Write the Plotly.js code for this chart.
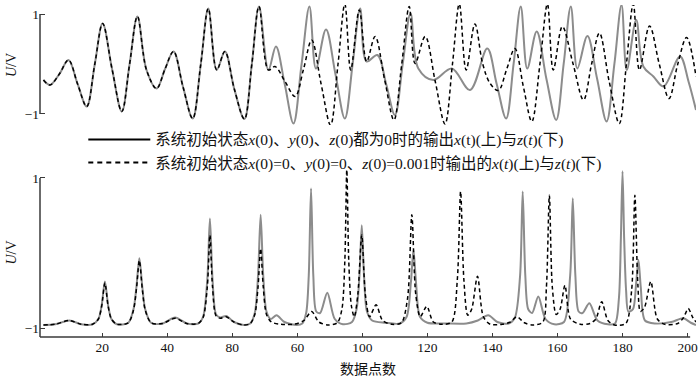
<!DOCTYPE html>
<html>
<head>
<meta charset="utf-8">
<script src="https://cdn.plot.ly/plotly-3.0.1.min.js"></script>
<style>html,body{margin:0;padding:0;background:#fff;}#chart{width:700px;height:381px;}</style>
</head>
<body>
<div id="chart"></div>
<script>
// ---- Data ----
// Top panel: x(t), solid = initial state all 0, dashed = z(0)=0.001
var topSolidX = [1.9, 3.9, 6.8, 9.6, 12.4, 15.2, 17.7, 20.1, 23.0, 26.0, 28.4, 30.8, 33.6, 36.7, 39.3,
  41.9, 44.8, 47.8, 50.3, 52.6, 55.2, 57.7, 60.6, 63.7, 66.0, 68.2, 71.1, 73.4, 76.1, 78.8,
  81.3, 83.7, 85.7, 88.8, 91.7, 94.6, 97.0, 99.3, 101.3, 104.6, 107.3, 110.0, 112.4, 114.8, 117.2,
  121.8, 127.5, 133.1, 138.4, 141.3, 144.2, 146.5, 148.7, 150.7, 153.6, 156.6, 159.6, 161.9, 164.1, 166.1,
  169.2, 172.2, 175.1, 177.5, 179.7, 181.3, 184.2, 186.4, 189.5, 192.6, 197.7, 200.3, 202.6];
var topSolidY = [-0.32, -0.42, -0.2, 0.08, -0.4, -0.85, 0.0, 0.81, -0.1, -0.95, 0.0, 0.95, -0.12, -0.49, -0.1,
  0.25, -0.45, -1.09, 0.0, 1.11, -0.12, 0.25, -0.5, -1.1, 0.0, 1.15, -0.12, 0.35, -0.4, -1.19,
  0.0, 1.15, -0.09, 0.69, -0.2, -1.09, 0.0, 1.11, 0.05, 0.18, -0.4, -1.02, 0.0, 1.01, -0.09,
  -0.32, -0.09, -0.52, 0.31, -0.4, -1.09, 0.0, 1.15, -0.09, 0.65, -0.3, -1.12, 0.0, 1.15, -0.09,
  0.56, -0.3, -1.15, 0.0, 1.18, -0.12, 0.88, -0.05, -0.25, -0.45, 0.15, -0.35, -0.92];

var topDashX = [1.9, 3.9, 6.8, 9.6, 12.4, 15.2, 17.7, 20.1, 23.0, 26.0, 28.4, 30.8, 33.6, 36.7, 39.3,
  41.9, 44.8, 47.8, 50.3, 52.6, 55.2, 57.7, 60.6, 63.7, 66.0, 68.2, 71.1, 73.1, 76.2, 79.3,
  81.9, 84.4, 87.3, 90.2, 92.5, 94.6, 96.4, 99.05, 101.3, 103.9, 106.8, 109.7, 112.1, 114.4, 116.2,
  119.3, 122.4, 125.4, 127.7, 129.8, 131.9, 134.6, 137.0, 139.3, 141.8, 144.4, 146.9, 149.5, 152.1, 154.6,
  156.9, 158.7, 161.5, 164.8, 168.0, 170.5, 172.9, 175.9, 179.0, 181.2, 183.3, 185.2, 188.3, 191.3, 194.3,
  197.0, 199.7, 202.6];
var topDashY = [-0.32, -0.42, -0.2, 0.08, -0.4, -0.85, 0.0, 0.81, -0.1, -0.95, 0.0, 0.95, -0.12, -0.49, -0.1,
  0.25, -0.45, -1.09, 0.0, 1.11, -0.12, 0.25, -0.5, -1.1, 0.0, 1.15, -0.12, -0.05, -0.35, -0.65,
  -0.1, 0.48, -0.4, -1.22, 0.0, 1.2, -0.12, 1.08, 0.05, 0.55, -0.3, -1.12, 0.0, 1.15, 0.01,
  0.55, -0.35, -1.2, 0.0, 1.2, -0.12, 0.8, 0.0, -0.39, -0.53, -0.1, 0.31, -0.45, -1.15, 0.0,
  1.2, -0.12, 0.75, 0.0, -0.72, 0.0, 0.62, -0.35, -1.19, 0.0, 1.2, -0.12, 0.76, 0.0, -0.69,
  0.0, 0.53, -0.25];

// Bottom panel: z(t)
var botSolidX = [1.9, 5.5, 9.9, 13.5, 17.0, 18.8, 19.8, 20.8, 21.8, 22.8,
  24.5, 28.0, 29.6, 30.5, 31.4, 32.3, 33.2, 35.0, 38.5, 42.4,
  46.0, 49.5, 51.0, 52.3, 53.1, 53.9, 55.0, 56.3, 58.1, 60.5,
  63.5, 65.5, 66.9, 67.9, 68.7, 69.5, 70.5, 71.8, 73.6, 76.0,
  79.8, 81.5, 82.7, 83.5, 84.2, 84.9, 85.8, 87.0, 89.2, 91.5,
  94.0, 96.8, 98.2, 99.1, 99.8, 100.5, 101.4, 103.0, 107.0, 111.5,
  113.6, 114.9, 115.7, 116.5, 117.7, 120.0, 126.0, 132.0, 135.5, 138.7,
  141.5, 145.0, 146.9, 148.5, 149.3, 150.1, 151.0, 152.2, 154.1, 156.3,
  159.0, 162.0, 163.9, 164.7, 165.5, 166.5, 167.7, 169.8, 172.3, 175.5,
  177.7, 178.9, 179.5, 180.0, 180.5, 181.1, 181.8, 183.2, 184.2, 184.9,
  185.6, 186.9, 190.0, 195.0, 198.7, 201.0, 202.6];
var botSolidY = [-0.96, -0.95, -0.9, -0.95, -0.95, -0.88, -0.7, -0.38, -0.7, -0.88,
  -0.95, -0.93, -0.75, -0.45, -0.07, -0.45, -0.75, -0.93, -0.94, -0.86,
  -0.94, -0.94, -0.85, -0.35, 0.46, -0.35, -0.82, -0.86, -0.84, -0.92,
  -0.96, -0.94, -0.8, -0.3, 0.51, -0.3, -0.78, -0.88, -0.83, -0.92,
  -0.96, -0.94, -0.8, -0.3, 0.86, -0.3, -0.78, -0.8, -0.53, -0.88,
  -0.95, -0.92, -0.75, -0.3, 0.37, -0.3, -0.78, -0.9, -0.93, -0.94,
  -0.85, -0.4, 0.04, -0.4, -0.85, -0.93, -0.94, -0.94, -0.9, -0.83,
  -0.92, -0.94, -0.86, -0.3, 0.82, -0.3, -0.75, -0.8, -0.58, -0.88,
  -0.95, -0.92, -0.3, 0.73, -0.3, -0.78, -0.8, -0.67, -0.9, -0.95,
  -0.94, -0.6, 0.2, 1.09, 0.2, -0.5, -0.78, -0.75, -0.4, -0.09,
  -0.45, -0.9, -0.94, -0.92, -0.87, -0.93, -0.96];

var botDashX = [1.9, 5.5, 9.9, 13.5, 17.0, 18.8, 19.8, 20.8, 21.8, 22.8,
  24.5, 28.0, 29.6, 30.5, 31.4, 32.3, 33.2, 35.0, 38.5, 42.4,
  46.0, 49.5, 51.0, 52.3, 53.1, 53.9, 55.0, 56.3, 58.1, 60.5,
  63.5, 65.5, 66.9, 67.9, 68.7, 69.5, 70.5, 72.0, 75.0, 79.0,
  82.0, 84.4, 86.6, 89.5, 92.3, 93.7, 94.6, 95.2, 95.8, 96.6,
  97.5, 98.6, 99.8, 100.9, 102.2, 104.2, 106.2, 109.0, 112.0, 113.9,
  115.2, 116.4, 117.8, 119.8, 121.8, 124.5, 127.5, 129.2, 130.2, 131.2,
  132.4, 133.6, 135.4, 137.2, 139.3, 143.0, 145.5, 147.5, 149.8, 152.5,
  155.5, 156.6, 157.5, 158.4, 159.6, 160.8, 162.3, 164.0, 167.0, 170.0,
  171.8, 173.6, 175.5, 177.5, 181.0, 182.8, 183.8, 184.7, 185.5, 186.8,
  188.7, 190.7, 193.0, 197.0, 198.8, 200.2, 201.6, 202.6];
var botDashY = [-0.96, -0.95, -0.9, -0.95, -0.95, -0.88, -0.71, -0.4, -0.71, -0.88,
  -0.95, -0.93, -0.76, -0.48, -0.1, -0.48, -0.76, -0.93, -0.94, -0.87,
  -0.94, -0.94, -0.86, -0.45, 0.24, -0.45, -0.84, -0.87, -0.85, -0.92,
  -0.96, -0.94, -0.82, -0.45, 0.06, -0.45, -0.82, -0.92, -0.95, -0.95,
  -0.9, -0.78, -0.92, -0.96, -0.93, -0.75, -0.1, 1.11, -0.1, -0.7,
  -0.85, -0.55, 0.24, -0.55, -0.85, -0.69, -0.9, -0.95, -0.93, -0.6,
  0.51, -0.55, -0.85, -0.71, -0.92, -0.95, -0.92, -0.35, 0.82, -0.35,
  -0.83, -0.75, -0.31, -0.85, -0.95, -0.95, -0.92, -0.85, -0.93, -0.96,
  -0.92, -0.45, 0.77, -0.45, -0.82, -0.75, -0.43, -0.88, -0.95, -0.94,
  -0.88, -0.65, -0.9, -0.96, -0.94, -0.5, 0.77, -0.4, -0.78, -0.72,
  -0.38, -0.88, -0.95, -0.94, -0.86, -0.74, -0.86, -0.92];

var tickValues = [20, 40, 60, 80, 100, 120, 140, 160, 180, 200];
var tickLabels = ['20', '40', '80', '60', '100', '120', '140', '160', '180', '200'];
var legendSolid = '系统初始状态<i>x</i>(0)、<i>y</i>(0)、<i>z</i>(0)都为0时的输出<i>x</i>(t)(上)与<i>z</i>(<i>t</i>)(下)';
var legendDash = '系统初始状态<i>x</i>(0)=0、<i>y</i>(0)=0、<i>z</i>(0)=0.001时输出的<i>x</i>(<i>t</i>)(上)与<i>z</i>(<i>t</i>)(下)';

// ---- Styles ----
var FONT = '"Liberation Serif", "Noto Sans CJK SC", serif';
var GRAY = '#8c8c8c';
var AX = '#3a3a3a';
var DASH = '4px,3px';

var traces = [
  {x: topSolidX, y: topSolidY, xaxis: 'x', yaxis: 'y', mode: 'lines', showlegend: false,
   line: {color: GRAY, width: 2, shape: 'spline', smoothing: 1}},
  {x: topDashX, y: topDashY, xaxis: 'x', yaxis: 'y', mode: 'lines', showlegend: false,
   line: {color: '#000', width: 1.5, dash: DASH, shape: 'spline', smoothing: 1}},
  {x: botSolidX, y: botSolidY, xaxis: 'x', yaxis: 'y2', mode: 'lines', showlegend: false,
   line: {color: GRAY, width: 2, shape: 'spline', smoothing: 0.8}},
  {x: botDashX, y: botDashY, xaxis: 'x', yaxis: 'y2', mode: 'lines', showlegend: false,
   line: {color: '#000', width: 1.5, dash: DASH, shape: 'spline', smoothing: 0.8}},
  {x: [null], y: [null], xaxis: 'x', yaxis: 'y', mode: 'lines', name: legendSolid, legendgroup: 'a',
   line: {color: '#000', width: 2}},
  {x: [null], y: [null], xaxis: 'x', yaxis: 'y', mode: 'lines', name: legendDash, legendgroup: 'b',
   line: {color: '#000', width: 2, dash: '5px,4px'}}
];

var layout = {
  width: 700, height: 381,
  margin: {l: 40, r: 4, t: 5, b: 44},
  paper_bgcolor: '#fff', plot_bgcolor: 'rgba(0,0,0,0)',
  font: {family: FONT, size: 13, color: '#111'},
  showlegend: true,
  legend: {x: 0.066, y: 0.645, xanchor: 'left', yanchor: 'top', bgcolor: 'rgba(0,0,0,0)',
           font: {family: FONT, size: 15.5, color: '#111'}, itemwidth: 62, tracegroupgap: 2,
           traceorder: 'normal'},
  xaxis: {range: [0.84, 202.6], anchor: 'y2', tickvals: tickValues, ticktext: tickLabels,
          ticks: 'inside', ticklen: 4, tickcolor: AX, showgrid: false, zeroline: false, showline: false,
          tickfont: {family: FONT, size: 13.5, color: '#111'},
          title: {text: '数据点数', font: {family: FONT, size: 14, color: '#111'}, standoff: 10}},
  yaxis: {domain: [0.6386, 1], range: [-1.22, 1.18], tickvals: [-1, 1], ticktext: ['−1', '1'],
          ticks: 'inside', ticklen: 5, tickcolor: AX, showgrid: false, zeroline: false, showline: false,
          tickfont: {family: FONT, size: 13.5, color: '#111'},
          title: {text: '<i>U</i>/V', font: {family: FONT, size: 14, color: '#111'}, standoff: 4}},
  yaxis2: {domain: [0, 0.509], range: [-1.12, 1.133], tickvals: [-1, 1], ticktext: ['−1', '1'],
          ticks: 'inside', ticklen: 5, tickcolor: AX, showgrid: false, zeroline: false, showline: false,
          tickfont: {family: FONT, size: 13.5, color: '#111'},
          title: {text: '<i>U</i>/V', font: {family: FONT, size: 14, color: '#111'}, standoff: 4}},
  shapes: [
    {type: 'line', xref: 'paper', yref: 'y', x0: 0, x1: 0, y0: -1, y1: 1, line: {color: AX, width: 1.5}},
    {type: 'line', xref: 'paper', yref: 'y2', x0: 0, x1: 0, y0: -1.12, y1: 1, line: {color: AX, width: 1.5}},
    {type: 'line', xref: 'x', yref: 'y2 domain', x0: 0.84, x1: 200.8, y0: 0, y1: 0, line: {color: AX, width: 1.5}}
  ]
};

Plotly.newPlot('chart', traces, layout, {staticPlot: true, displayModeBar: false});
</script>
</body>
</html>
